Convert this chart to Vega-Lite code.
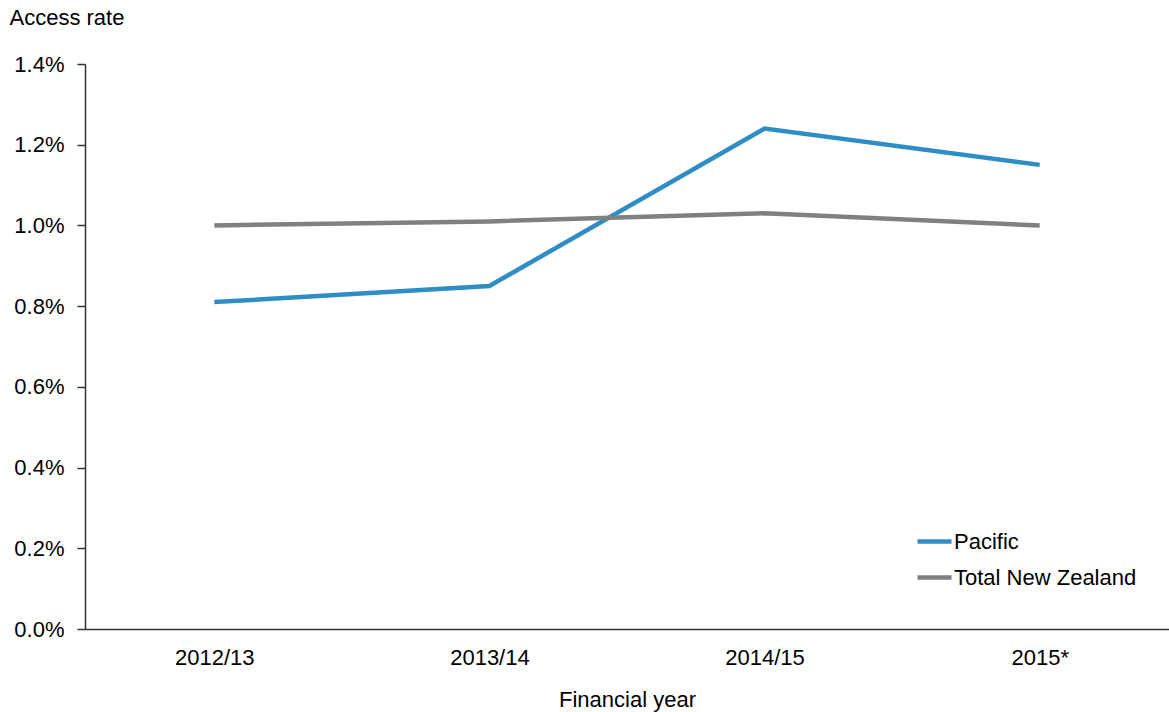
{
  "$schema": "https://vega.github.io/schema/vega-lite/v6.json",
  "autosize": "none",
  "width": 1084,
  "height": 565,
  "padding": {"left": 85, "top": 64, "right": 0, "bottom": 83},
  "background": "white",
  "config": {
    "view": {"stroke": null},
    "font": "Liberation Sans",
    "axis": {"labelFont": "Liberation Sans", "titleFont": "Liberation Sans", "labelColor": "#000", "titleColor": "#000", "domainColor": "#333", "tickColor": "#333", "titleFontWeight": "normal"},
    "legend": {"labelFont": "Liberation Sans"}
  },
  "data": {
    "values": [
      {"year": "2012/13", "series": "Pacific", "rate": 0.0081},
      {"year": "2013/14", "series": "Pacific", "rate": 0.0085},
      {"year": "2014/15", "series": "Pacific", "rate": 0.0124},
      {"year": "2015*", "series": "Pacific", "rate": 0.0115},
      {"year": "2012/13", "series": "Total New Zealand", "rate": 0.0100},
      {"year": "2013/14", "series": "Total New Zealand", "rate": 0.0101},
      {"year": "2014/15", "series": "Total New Zealand", "rate": 0.0103},
      {"year": "2015*", "series": "Total New Zealand", "rate": 0.0100}
    ]
  },
  "mark": {"type": "line", "strokeWidth": 4.5},
  "encoding": {
    "x": {
      "field": "year", "type": "ordinal", "sort": null,
      "scale": {"type": "point", "padding": 0.47},
      "axis": {"title": "Financial year", "labelAngle": 0, "ticks": false, "labelFontSize": 22, "labelPadding": 18, "titleFontSize": 22, "titlePadding": 21, "domainWidth": 1.5}
    },
    "y": {
      "field": "rate", "type": "quantitative",
      "scale": {"domain": [0, 0.014], "nice": false},
      "axis": {"values": [0, 0.002, 0.004, 0.006, 0.008, 0.01, 0.012, 0.014], "format": ".1%", "grid": false, "tickSize": 8, "labelPadding": 13, "labelFontSize": 22, "domainWidth": 1.5, "tickWidth": 1.5,
        "title": "Access rate", "titleFontSize": 22, "titleAngle": 0, "titleAlign": "left", "titleBaseline": "alphabetic", "titleX": -76, "titleY": -40}
    },
    "color": {
      "field": "series", "type": "nominal",
      "scale": {"domain": ["Pacific", "Total New Zealand"], "range": ["#2e8ec4", "#808080"]},
      "legend": {"title": null, "orient": "none", "legendX": 830, "legendY": 458, "padding": 0, "symbolType": "stroke", "symbolSize": 1156, "symbolStrokeWidth": 4.5, "labelFontSize": 22, "labelOffset": 0, "rowPadding": 5, "labelLimit": 400, "labelColor": "#000"}
    }
  }
}
